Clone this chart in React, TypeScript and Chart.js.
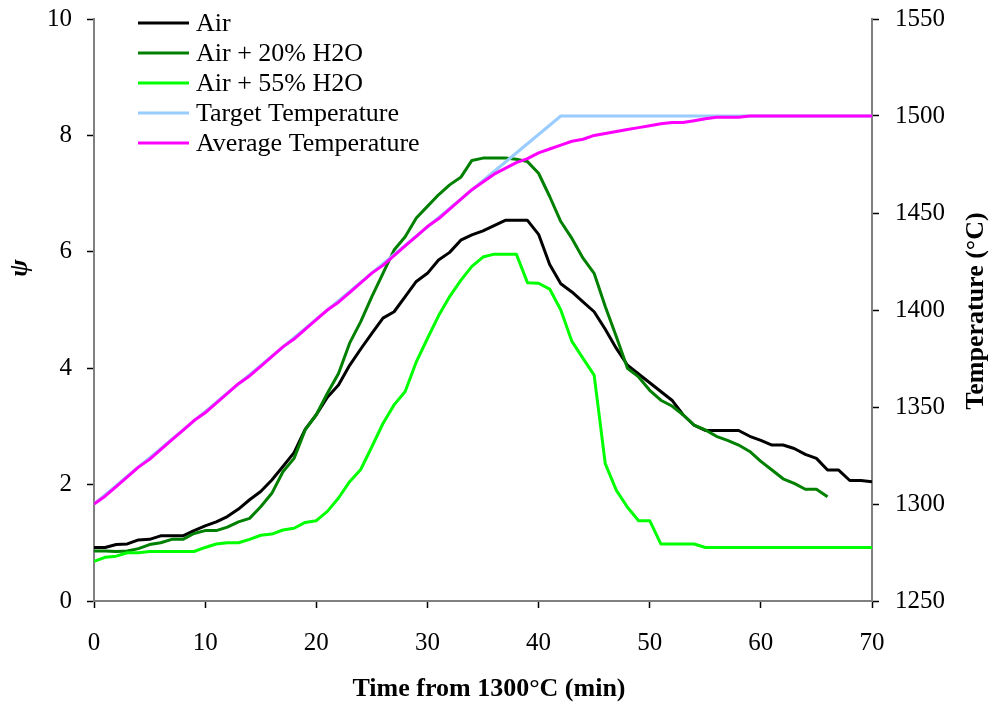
import React, { useEffect, useRef } from 'react';
import { Chart, registerables } from 'chart.js';

Chart.register(...registerables);

// ψ values per minute (index = minutes from 1300°C)
const AIR = [
  0.92, 0.92, 0.97, 0.98, 1.05, 1.06, 1.12, 1.12, 1.12, 1.21,
  1.29, 1.36, 1.45, 1.58, 1.74, 1.88, 2.08, 2.31, 2.55, 2.95,
  3.2, 3.5, 3.71, 4.05, 4.33, 4.6, 4.86, 4.97, 5.23, 5.49,
  5.63, 5.86, 5.99, 6.2, 6.29, 6.36, 6.45, 6.54, 6.54, 6.54,
  6.3, 5.78, 5.45, 5.31, 5.14, 4.97, 4.67, 4.34, 4.05, 3.9,
  3.75, 3.6, 3.45, 3.2, 3.02, 2.93, 2.93, 2.93, 2.93, 2.83,
  2.76, 2.68, 2.68, 2.62, 2.52, 2.45, 2.25, 2.25, 2.07, 2.07,
  2.05,
];

const AIR_20_H2O = [
  0.86, 0.86, 0.85, 0.86, 0.9, 0.97, 1.0, 1.06, 1.06, 1.16,
  1.21, 1.21, 1.27, 1.36, 1.42, 1.62, 1.85, 2.22, 2.45, 2.94,
  3.2, 3.57, 3.91, 4.43, 4.8, 5.23, 5.63, 6.03, 6.26, 6.58,
  6.78, 6.98, 7.15, 7.28, 7.57, 7.61, 7.61, 7.61, 7.59, 7.55,
  7.35, 6.95, 6.52, 6.23, 5.89, 5.63, 5.06, 4.54, 4.0, 3.85,
  3.62, 3.45, 3.35, 3.2, 3.02, 2.94, 2.83, 2.76, 2.68, 2.57,
  2.4, 2.25, 2.1, 2.02, 1.92, 1.92, 1.79,
];

const AIR_55_H2O = [
  0.68, 0.75, 0.77, 0.83, 0.83, 0.85, 0.85, 0.85, 0.85, 0.85,
  0.92, 0.98, 1.0, 1.0, 1.06, 1.13, 1.15, 1.22, 1.25, 1.35,
  1.38, 1.54, 1.77, 2.05, 2.26, 2.65, 3.05, 3.37, 3.6, 4.11,
  4.51, 4.9, 5.23, 5.51, 5.75, 5.91, 5.96, 5.96, 5.96, 5.47,
  5.46, 5.36, 5.0, 4.46, 4.17, 3.88, 2.36, 1.9, 1.61, 1.38,
  1.38, 0.98, 0.98, 0.98, 0.98, 0.92, 0.92, 0.92, 0.92, 0.92,
  0.92, 0.92, 0.92, 0.92, 0.92, 0.92, 0.92, 0.92, 0.92, 0.92,
  0.92,
];

// Temperatures (°C)
const TARGET_TIMES = [0, 42, 70];
const TARGET_TEMPS = [1300, 1500, 1500];

const AVERAGE_TEMP = [
  1300, 1304, 1309, 1314, 1319, 1323, 1328, 1333, 1338, 1343,
  1347, 1352, 1357, 1362, 1366, 1371, 1376, 1381, 1385, 1390,
  1395, 1400, 1404, 1409, 1414, 1419, 1423, 1428, 1433, 1438,
  1443, 1447, 1452, 1457, 1462, 1466, 1470, 1473, 1476, 1478,
  1481, 1483, 1485, 1487, 1488, 1490, 1491, 1492, 1493, 1494,
  1495, 1496, 1496.6, 1496.6, 1497.6, 1498.6, 1499.3, 1499.3, 1499.3, 1500,
  1500, 1500, 1500, 1500, 1500, 1500, 1500, 1500, 1500, 1500,
  1500,
];

const LABELS = ['Air', 'Air + 20% H2O', 'Air + 55% H2O', 'Target Temperature', 'Average Temperature'];
const COLORS = ['#000000', '#008000', '#00FF00', '#99CCFF', '#FF00FF'];

const X_TITLE = 'Time from 1300°C (min)';
const Y_TITLE = 'ψ';
const Y2_TITLE = 'Temperature (°C)';

const FONT = "'Liberation Serif', 'Times New Roman', serif";

const byMinute = (arr: number[]) => arr.map((v, i) => ({ x: i, y: v }));

const overlayPlugin = {
  id: 'overlay',
  afterDraw(chart: any) {
    const { ctx, chartArea } = chart;
    ctx.save();
    // legend inside plot area
    chart.data.datasets.forEach((ds: any, i: number) => {
      const y = chartArea.top + 4 + i * 30;
      ctx.strokeStyle = ds.borderColor;
      ctx.lineWidth = 3;
      ctx.beginPath();
      ctx.moveTo(chartArea.left + 44, y);
      ctx.lineTo(chartArea.left + 95, y);
      ctx.stroke();
      ctx.fillStyle = '#000';
      ctx.font = `26px ${FONT}`;
      ctx.textAlign = 'left';
      ctx.textBaseline = 'middle';
      ctx.fillText(ds.label, chartArea.left + 102, y + 1);
    });
    // left axis title (rotated)
    ctx.fillStyle = '#000';
    ctx.font = `bold italic 26px ${FONT}`;
    ctx.textAlign = 'center';
    ctx.textBaseline = 'middle';
    ctx.save();
    ctx.translate(20, chartArea.top + 249);
    ctx.rotate(-Math.PI / 2);
    ctx.fillText(Y_TITLE, 0, 0);
    ctx.restore();
    // right axis title (rotated, reading upward)
    ctx.font = `bold 26px ${FONT}`;
    ctx.save();
    ctx.translate(chart.width - 16, (chartArea.top + chartArea.bottom) / 2 + 1);
    ctx.rotate(-Math.PI / 2);
    ctx.fillText(Y2_TITLE, 0, 0);
    ctx.restore();
    // bottom title
    ctx.fillText(X_TITLE, (chartArea.left + chartArea.right) / 2 + 6, chart.height - 20);
    ctx.restore();
  },
};

export default function App() {
  const canvasRef = useRef<HTMLCanvasElement | null>(null);

  useEffect(() => {
    document.body.style.margin = '0';
    const canvas = canvasRef.current;
    if (!canvas) return;

    const tickFont = { family: FONT, size: 25 };
    const gridOpts = {
      drawOnChartArea: false,
      drawTicks: true,
      tickLength: 7,
      tickColor: '#000',
      tickWidth: 1.5,
    };
    const borderOpts = { display: true, color: '#808080', width: 2 };

    const fitVertical = (width: number) => (s: any) => {
      s.width = width;
      s.paddingTop = 0;
      s.paddingBottom = 0;
    };

    const chart = new Chart(canvas, {
      type: 'line',
      data: {
        datasets: [
          { label: LABELS[0], data: byMinute(AIR), borderColor: COLORS[0], yAxisID: 'y', order: 5 },
          { label: LABELS[1], data: byMinute(AIR_20_H2O), borderColor: COLORS[1], yAxisID: 'y', order: 4 },
          { label: LABELS[2], data: byMinute(AIR_55_H2O), borderColor: COLORS[2], yAxisID: 'y', order: 3 },
          {
            label: LABELS[3],
            data: TARGET_TIMES.map((t, i) => ({ x: t, y: TARGET_TEMPS[i] })),
            borderColor: COLORS[3],
            yAxisID: 'y1',
            order: 2,
          },
          { label: LABELS[4], data: byMinute(AVERAGE_TEMP), borderColor: COLORS[4], yAxisID: 'y1', order: 1 },
        ].map((d) => ({
          ...d,
          borderWidth: 3,
          pointRadius: 0,
          tension: 0,
          fill: false,
          backgroundColor: d.borderColor,
          borderJoinStyle: 'round' as const,
        })),
      },
      options: {
        responsive: false,
        animation: false,
        devicePixelRatio: 1,
        layout: { padding: { top: 19, left: 0, right: 0, bottom: 0 } },
        plugins: { legend: { display: false }, tooltip: { enabled: false } },
        scales: {
          x: {
            type: 'linear',
            min: 0,
            max: 70,
            ticks: { stepSize: 10, color: '#000', font: tickFont, padding: 20, maxRotation: 0 },
            grid: gridOpts,
            border: borderOpts,
            afterFit: (s: any) => {
              s.height = 108;
              s.paddingLeft = 0;
              s.paddingRight = 0;
            },
          },
          y: {
            type: 'linear',
            position: 'left',
            min: 0,
            max: 10,
            ticks: { stepSize: 2, color: '#000', font: tickFont, padding: 15 },
            grid: gridOpts,
            border: borderOpts,
            afterFit: fitVertical(94),
          },
          y1: {
            type: 'linear',
            position: 'right',
            min: 1250,
            max: 1550,
            ticks: {
              stepSize: 50,
              color: '#000',
              font: tickFont,
              padding: 16,
              callback: (v: any) => String(v),
            },
            grid: gridOpts,
            border: borderOpts,
            afterFit: fitVertical(120),
          },
        },
      },
      plugins: [overlayPlugin],
    } as any);

    return () => chart.destroy();
  }, []);

  return (
    <div style={{ width: 992, height: 709, background: '#fff' }}>
      <canvas ref={canvasRef} width={992} height={709} style={{ display: 'block' }} />
    </div>
  );
}
